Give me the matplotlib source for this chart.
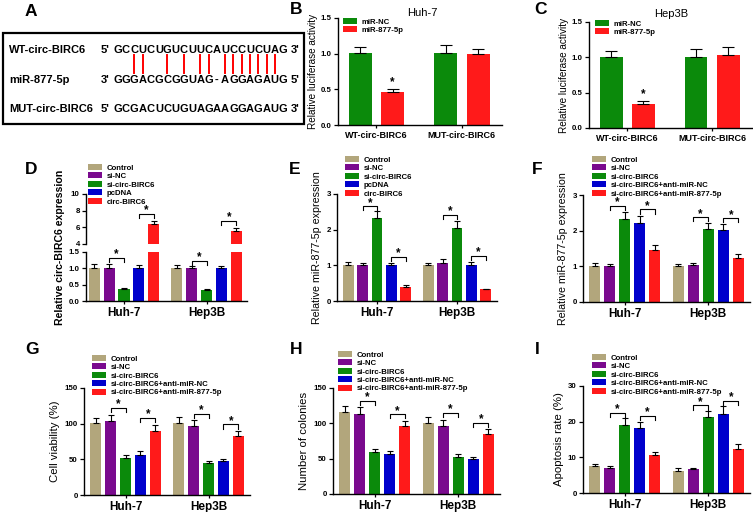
import numpy as np
import matplotlib
matplotlib.use('Agg')
import matplotlib.pyplot as plt
from matplotlib.patches import Rectangle

plt.rcParams['font.family'] = ['Liberation Sans', 'DejaVu Sans']
plt.rcParams['font.weight'] = 'bold'

W, H = 753, 512

# ---------------- data ----------------
cells = ['Huh-7', 'Hep3B']

# panel A: sequences
seq_labels = ['WT-circ-BIRC6', 'miR-877-5p', 'MUT-circ-BIRC6']
seq_left = ["5'", "3'", "5'"]
seq_right = ["3'", "5'", "3'"]
seqs = ['GCCUCUGUCUUCAUCCUCUAG', 'GGGACGCGGUAG-AGGAGAUG', 'GCGACUCUGUAGAAGGAGAUG']
pair_idx = [2, 3, 6, 8, 10, 11, 13, 14, 15, 16, 17, 18, 19]

# panels B, C: luciferase
luc_groups = ['WT-circ-BIRC6', 'MUT-circ-BIRC6']
luc_labels = ['miR-NC', 'miR-877-5p']
luc_huh7 = [[1.01, 1.01], [0.46, 0.99]]
luc_huh7_err = [[0.08, 0.11], [0.04, 0.07]]
luc_hep3b = [[1.01, 1.01], [0.34, 1.04]]
luc_hep3b_err = [[0.08, 0.11], [0.04, 0.11]]
luc_star_b = 0.52
luc_star_c = 0.39

# panels D, E
oe_labels = ['Control', 'si-NC', 'si-circ-BIRC6', 'pcDNA', 'circ-BIRC6']
d_vals = [[1.02, 1.02], [1.02, 1.00], [0.38, 0.33], [1.02, 1.02], [6.4, 5.6]]
d_err = [[0.10, 0.08], [0.10, 0.08], [0.02, 0.03], [0.07, 0.05], [0.4, 0.35]]
d_br_low = [(0, 1, 2, 1.31), (1, 1, 2, 1.23)]
d_br_up = [(0, 3, 4, 7.6), (1, 3, 4, 6.76)]

e_vals = [[1.01, 1.01], [1.00, 1.06], [2.32, 2.06], [1.01, 1.01], [0.40, 0.33]]
e_err = [[0.07, 0.06], [0.06, 0.13], [0.20, 0.18], [0.06, 0.08], [0.04, 0.02]]
e_br = [(0, 1, 2, 2.66), (0, 3, 4, 1.24), (1, 1, 2, 2.41), (1, 3, 4, 1.27)]

# panels F-I
rs_labels = ['Control', 'si-NC', 'si-circ-BIRC6', 'si-circ-BIRC6+anti-miR-NC',
             'si-circ-BIRC6+anti-miR-877-5p']
f_vals = [[1.01, 1.01], [1.01, 1.03], [2.32, 2.06], [2.22, 2.01], [1.47, 1.24]]
f_err = [[0.08, 0.06], [0.06, 0.06], [0.20, 0.16], [0.20, 0.18], [0.12, 0.10]]
f_br = [(0, 1, 2, 2.69), (0, 3, 4, 2.60), (1, 1, 2, 2.38), (1, 3, 4, 2.35)]

g_vals = [[101, 101], [104, 97], [52, 45], [56, 47], [90, 83]]
g_err = [[7, 9], [8, 8], [4, 3], [5, 3], [8, 7]]
g_br = [(0, 1, 2, 122), (0, 3, 4, 108), (1, 1, 2, 113.6), (1, 3, 4, 99)]

h_vals = [[116, 101], [113, 96], [59, 52], [57, 49], [96, 85]]
h_err = [[9, 8], [10, 9], [4, 4], [4, 3], [8, 7]]
h_br = [(0, 1, 2, 132), (0, 3, 4, 113), (1, 1, 2, 115), (1, 3, 4, 101)]

i_vals = [[7.6, 6.3], [7.1, 6.6], [19.2, 21.2], [18.2, 22.2], [10.6, 12.4]]
i_err = [[0.6, 0.7], [0.5, 0.4], [1.8, 1.7], [1.6, 2.1], [0.8, 1.3]]
i_br = [(0, 1, 2, 22.5), (0, 3, 4, 21.6), (1, 1, 2, 24.6), (1, 3, 4, 25.8)]

colors5 = ['#B2A67C', '#7A0A8E', '#0B8A0B', '#0000CC', '#FF1A1A']
colors2 = ['#0B8A0B', '#FF1A1A']

fig = plt.figure(figsize=(W / 100, H / 100), dpi=100)
bg = fig.add_axes([0, 0, 1, 1])
bg.set_xlim(0, W)
bg.set_ylim(H, 0)
bg.axis('off')


def px_axes(l, t, r, b):
    return fig.add_axes([l / W, 1 - b / H, (r - l) / W, (b - t) / H])


def style(ax, xsize=8.5):
    ax.spines['top'].set_visible(False)
    ax.spines['right'].set_visible(False)
    ax.spines['left'].set_linewidth(1.0)
    ax.spines['bottom'].set_linewidth(1.0)
    ax.tick_params(axis='y', length=3, width=0.9, labelsize=5.7, pad=1.5)
    ax.tick_params(axis='x', length=2.5, width=0.9, labelsize=xsize, pad=1.5)


def draw_bars(ax, vals, errs, cols, width, pitch, capsize):
    x = np.arange(len(cells))
    n = len(vals)
    handles = []
    for k in range(n):
        xs = x + (k - (n - 1) / 2) * pitch
        b = ax.bar(xs, vals[k], width, color=cols[k], zorder=2)
        ax.errorbar(xs, vals[k], yerr=[np.zeros(len(xs)), errs[k]], fmt='none',
                    ecolor='black', elinewidth=0.8, capsize=capsize, capthick=0.8,
                    zorder=3)
        handles.append(b)
    return handles


def brackets(ax, items, n, pitch, tick):
    for g, i, j, y in items:
        xi = g + (i - (n - 1) / 2) * pitch
        xj = g + (j - (n - 1) / 2) * pitch
        ax.plot([xi, xi, xj, xj], [y - tick, y, y, y - tick], color='black',
                lw=0.8, zorder=4, clip_on=False)
        ax.text((xi + xj) / 2, y - tick * 0.6, '*', ha='center', va='bottom',
                fontsize=8.5, zorder=4)


def legend(ax, handles, labels, x, y):
    ax.legend(handles, labels, loc='upper left', bbox_to_anchor=(x / W, 1 - y / H),
              bbox_transform=fig.transFigure, frameon=False,
              prop=dict(size=5.6, weight='bold'), handlelength=1.8,
              handleheight=0.8, handletextpad=0.6, labelspacing=0.1,
              borderpad=0, borderaxespad=0)


# ---------------- panel A ----------------
bg.add_patch(Rectangle((3, 33), 301, 91, fill=False, lw=1.6, ec='black'))
row_y = [50, 80, 109]
x0, pitch_a = 117.7, 8.27
for lab, lft, s, rgt, y in zip(seq_labels, seq_left, seqs, seq_right, row_y):
    bg.text(9, y, lab, fontsize=8, va='center', ha='left')
    bg.text(x0 - 8, y, lft, fontsize=8, va='center', ha='right')
    for i, ch in enumerate(s):
        bg.text(x0 + i * pitch_a, y, ch, fontsize=8, va='center', ha='center')
    bg.text(x0 + len(s) * pitch_a - 1, y, rgt, fontsize=8, va='center', ha='left')
for i in pair_idx:
    bg.plot([x0 + i * pitch_a] * 2, [55, 73], color='red', lw=1.4)

# panel letters
for letter, (lx, ly) in zip('ABCDEFGHI', [(31, 12), (296, 10), (541, 10),
                                           (31, 170), (295, 170), (537, 170),
                                           (32, 350), (296, 350), (537, 350)]):
    bg.text(lx, ly, letter, fontsize=12.5, ha='center', va='center')

# ---------------- panels B, C ----------------
for (l, t, r, b), vals, errs, title, star, (lx, ly), (tx, ty) in [
        ((338, 18, 502, 125), luc_huh7, luc_huh7_err, 'Huh-7', luc_star_b, (343, 18), (422, 13)),
        ((589, 22, 752, 128), luc_hep3b, luc_hep3b_err, 'Hep3B', luc_star_c, (595, 20), (671, 14))]:
    ax = px_axes(l, t, r, b)
    hs = draw_bars(ax, vals, errs, colors2, 0.27, 0.38, 4.5)
    ax.set_xlim(-0.45, 1.47)
    ax.set_ylim(0, 1.5)
    ax.set_yticks([0, 0.5, 1.0, 1.5])
    ax.set_yticklabels(['0.0', '0.5', '1.0', '1.5'])
    ax.set_xticks([0, 1])
    ax.set_xticklabels(luc_groups)
    style(ax, xsize=6.5)
    ax.set_ylabel('Relative luciferase activity', fontsize=7.2, labelpad=2)
    ax.text(0.19, star, '*', ha='center', va='bottom', fontsize=8.5)
    fig.text(tx / W, 1 - ty / H, title, ha='center', va='center', fontsize=8,
             fontweight='normal')
    legend(ax, hs, luc_labels, lx, ly)

# ---------------- panel D (broken axis) ----------------
pitch5, width5 = 0.18, 0.135
axd_up = px_axes(86, 194, 247, 244)
axd_lo = px_axes(86, 252, 247, 301)
for ax in (axd_up, axd_lo):
    hs = draw_bars(ax, d_vals, d_err, colors5, width5, pitch5, 2.5)
    ax.set_xlim(-0.46, 1.49)
    style(ax)
axd_up.set_ylim(4, 10)
axd_up.set_yticks([4, 6, 8, 10])
axd_up.spines['bottom'].set_visible(False)
axd_up.tick_params(axis='x', bottom=False, labelbottom=False)
axd_lo.set_ylim(0, 1.5)
axd_lo.set_yticks([0, 0.5, 1.0, 1.5])
axd_lo.set_yticklabels(['0.0', '0.5', '1.0', '1.5'])
axd_lo.set_xticks([0, 1])
axd_lo.set_xticklabels(cells)
brackets(axd_lo, d_br_low, 5, pitch5, 0.12)
brackets(axd_up, d_br_up, 5, pitch5, 0.5)
fig.text(60 / W, 1 - 247 / H, 'Relative circ-BIRC6 expression', rotation=90,
         ha='center', va='center', fontsize=7.6)
legend(axd_lo, hs, oe_labels, 88, 164)

# ---------------- panels E-I ----------------
specs = [
    ((337, 194, 497, 301), e_vals, e_err, e_br, oe_labels, (0, 3), [0, 1, 2, 3],
     'Relative miR-877-5p expression', (345, 156), 0.12),
    ((583, 195, 750, 302), f_vals, f_err, f_br, rs_labels, (0, 3), [0, 1, 2, 3],
     'Relative miR-877-5p expression', (592, 156), 0.12),
    ((84, 388, 250, 495), g_vals, g_err, g_br, rs_labels, (0, 150), [0, 50, 100, 150],
     'Cell viability (%)', (92, 355), 6),
    ((333, 388, 500, 494), h_vals, h_err, h_br, rs_labels, (0, 150), [0, 50, 100, 150],
     'Number of colonies', (338, 351), 6),
    ((583, 386, 750, 493), i_vals, i_err, i_br, rs_labels, (0, 30), [0, 10, 20, 30],
     'Apoptosis rate (%)', (592, 354), 1.2),
]
for (l, t, r, b), vals, errs, brs, labs, ylim, yt, ylab, (lx, ly), tick in specs:
    ax = px_axes(l, t, r, b)
    hs = draw_bars(ax, vals, errs, colors5, width5, pitch5, 2.5)
    ax.set_xlim(-0.5, 1.5)
    ax.set_ylim(*ylim)
    ax.set_yticks(yt)
    ax.set_xticks([0, 1])
    ax.set_xticklabels(cells)
    style(ax)
    fs = 7.7 if ylab.startswith('Relative') else 8.2
    ax.set_ylabel(ylab, fontsize=fs, labelpad=3)
    brackets(ax, brs, 5, pitch5, tick)
    legend(ax, hs, labs, lx, ly)

fig.savefig('out.png', dpi=100)
